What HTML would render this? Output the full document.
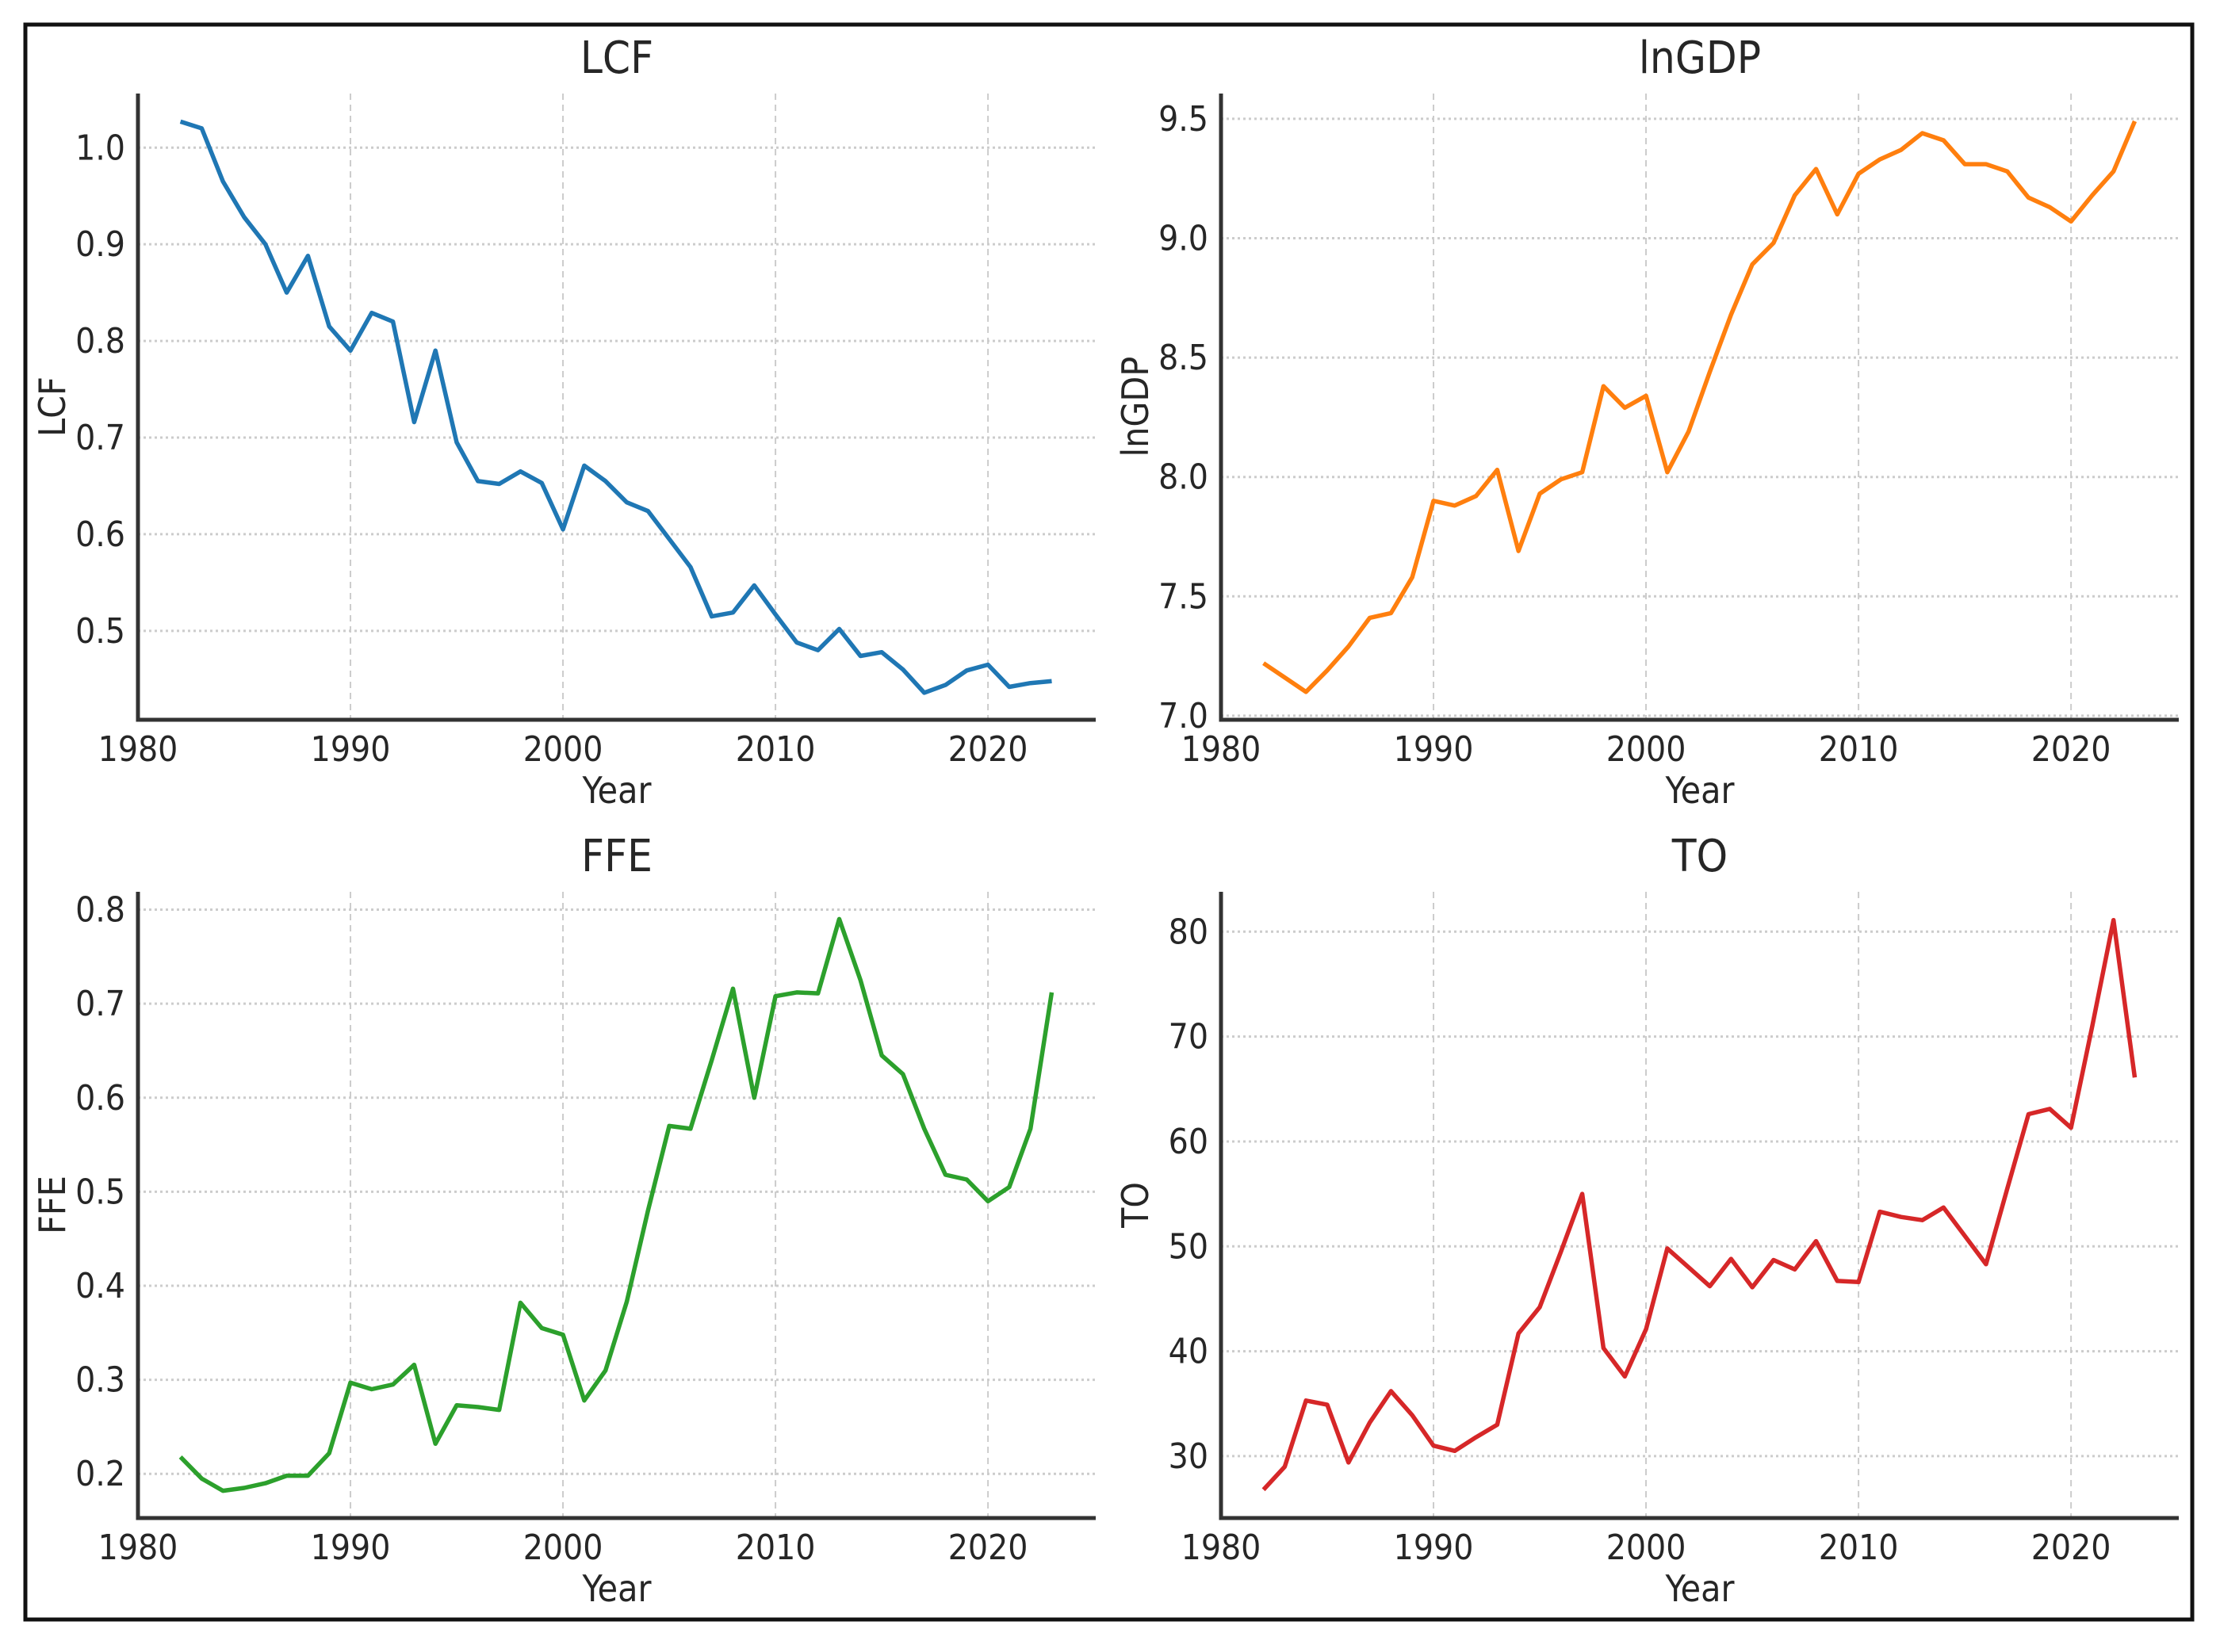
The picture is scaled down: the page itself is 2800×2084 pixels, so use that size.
<!DOCTYPE html>
<html><head><meta charset="utf-8"><style>
html,body{margin:0;padding:0;background:#fff;}
svg{display:block;}
text{font-family:"DejaVu Sans Condensed","DejaVu Sans","Liberation Sans",sans-serif;fill:#262626;}
</style></head><body>
<svg id="fig" width="2800" height="2084" viewBox="0 0 2800 2084" xmlns="http://www.w3.org/2000/svg">
<rect x="32" y="31" width="2733" height="2012" fill="none" stroke="#111" stroke-width="5"/>
</svg>
<script>
const years = [1982,1983,1984,1985,1986,1987,1988,1989,1990,1991,1992,1993,1994,1995,1996,1997,1998,1999,2000,2001,2002,2003,2004,2005,2006,2007,2008,2009,2010,2011,2012,2013,2014,2015,2016,2017,2018,2019,2020,2021,2022,2023];
const lcfValues = [1.027,1.02,0.965,0.928,0.9,0.85,0.888,0.815,0.79,0.829,0.82,0.716,0.79,0.695,0.655,0.652,0.665,0.653,0.605,0.671,0.655,0.633,0.624,0.595,0.566,0.515,0.519,0.547,0.517,0.488,0.48,0.502,0.474,0.478,0.46,0.436,0.444,0.459,0.465,0.442,0.446,0.448];
const lngdpValues = [7.22,7.16,7.10,7.19,7.29,7.41,7.43,7.58,7.90,7.88,7.92,8.03,7.69,7.93,7.99,8.02,8.38,8.29,8.34,8.02,8.19,8.44,8.68,8.89,8.98,9.18,9.29,9.10,9.27,9.33,9.37,9.44,9.41,9.31,9.31,9.28,9.17,9.13,9.07,9.18,9.28,9.49];
const ffeValues = [0.218,0.195,0.182,0.185,0.19,0.198,0.198,0.222,0.297,0.29,0.295,0.316,0.232,0.273,0.271,0.268,0.382,0.355,0.348,0.278,0.31,0.383,0.48,0.57,0.567,0.64,0.716,0.6,0.708,0.712,0.711,0.79,0.725,0.645,0.625,0.567,0.518,0.513,0.49,0.505,0.567,0.712];
const toValues = [26.8,29,35.3,34.9,29.4,33.2,36.2,33.9,31,30.5,31.8,33,41.7,44.2,49.5,55,40.3,37.6,42.1,49.8,48,46.2,48.8,46.1,48.7,47.8,50.5,46.7,46.6,53.3,52.8,52.5,53.7,51,48.3,55.5,62.6,63.1,61.3,71,81.1,66.1];
const xTicks = [1980,1990,2000,2010,2020];
const lcfTicks = [0.5,0.6,0.7,0.8,0.9,1.0];
const lngdpTicks = [7.0,7.5,8.0,8.5,9.0,9.5];
const ffeTicks = [0.2,0.3,0.4,0.5,0.6,0.7,0.8];
const toTicks = [30,40,50,60,70,80];

const NS='http://www.w3.org/2000/svg';
const svg=document.getElementById('fig');
function mk(tag,attrs,parent){const e=document.createElementNS(NS,tag);for(const k in attrs)e.setAttribute(k,attrs[k]);(parent||svg).appendChild(e);return e;}

const panels=[
 {key:'lcf',title:'LCF',ylabel:'LCF',vals:lcfValues,ticks:lcfTicks,ymin:0.408,ymax:1.056,dec:1,color:'#1f77b4',ox:0,oy:0},
 {key:'lngdp',title:'lnGDP',ylabel:'lnGDP',vals:lngdpValues,ticks:lngdpTicks,ymin:6.983,ymax:9.606,dec:1,color:'#ff7f0e',ox:1366,oy:0},
 {key:'ffe',title:'FFE',ylabel:'FFE',vals:ffeValues,ticks:ffeTicks,ymin:0.153,ymax:0.819,dec:1,color:'#2ca02c',ox:0,oy:1007},
 {key:'to',title:'TO',ylabel:'TO',vals:toValues,ticks:toTicks,ymin:24.1,ymax:83.8,dec:0,color:'#d62728',ox:1366,oy:1007}
];
const L=174,R=1382,T=118,B=908,XMIN=1980,XMAX=2025.07;
panels.forEach(p=>{
 const g=mk('g',{transform:`translate(${p.ox},${p.oy})`});
 
 
 const xs=v=>L+(v-XMIN)/(XMAX-XMIN)*(R-L);
 const ys=v=>B-(v-p.ymin)/(p.ymax-p.ymin)*(B-T);
 xTicks.forEach(t=>{
  const gl=mk('line',{x1:xs(t),x2:xs(t),y1:T,y2:B,stroke:'#ccc','stroke-width':2,'stroke-dasharray':'8,6'},g);
  
  
  const tl=mk('text',{x:xs(t),y:B+52,'text-anchor':'middle','font-size':44},g);
  
  
  tl.textContent=t;
 });
 p.ticks.forEach(t=>{
  const gl=mk('line',{x1:L,x2:R,y1:ys(t),y2:ys(t),stroke:'#ccc','stroke-width':3,'stroke-dasharray':'3,4'},g);
  
  
  const tl=mk('text',{x:L-16,y:ys(t)+15,'text-anchor':'end','font-size':44},g);
  
  
  tl.textContent=t.toFixed(p.dec);
 });
 const d=p.vals.map((v,i)=>(i?'L':'M')+xs(years[i]).toFixed(1)+','+ys(v).toFixed(1)).join(' ');
 const line=mk('path',{d:d,fill:'none',stroke:p.color,'stroke-width':5.5,'stroke-linejoin':'round'},g);
 
 
 const sp=mk('path',{d:`M${L},${T} L${L},${B} L${R},${B}`,fill:'none',stroke:'#333','stroke-width':5},g);
 
 
 const ti=mk('text',{x:(L+R)/2,y:92,'text-anchor':'middle','font-size':56},g);
 
 
 ti.textContent=p.title;
 const xl=mk('text',{x:(L+R)/2,y:1013,'text-anchor':'middle','font-size':46},g);
 
 
 xl.textContent='Year';
 const yl=mk('text',{x:0,y:0,'text-anchor':'middle','font-size':46,transform:`translate(82,${(T+B)/2}) rotate(-90)`},g);
 
 
 yl.textContent=p.ylabel;
});
</script>
</body></html>
